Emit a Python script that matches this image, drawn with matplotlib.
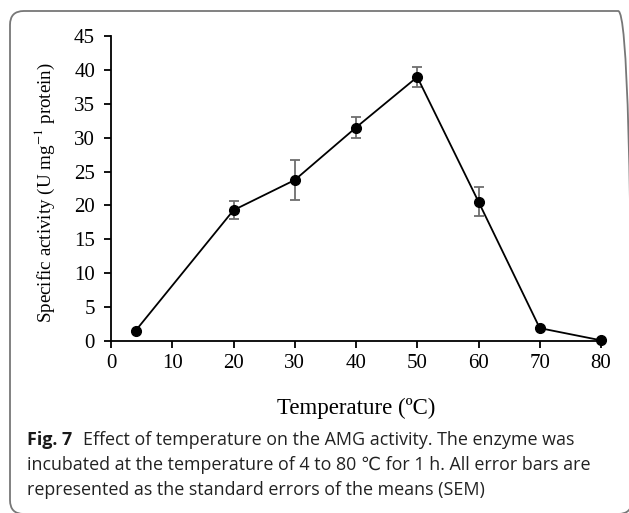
import numpy as np
import matplotlib.pyplot as plt
from matplotlib.patches import FancyBboxPatch

# values
temperature = [4, 20, 30, 40, 50, 60, 70, 80]
activity = [1.5, 19.3, 23.75, 31.5, 38.95, 20.55, 1.9, 0.1]
sem = [0.0, 1.3, 3.0, 1.55, 1.45, 2.1, 0.0, 0.0]
xticks = [0, 10, 20, 30, 40, 50, 60, 70, 80]
yticks = [0, 5, 10, 15, 20, 25, 30, 35, 40, 45]

W, H = 629, 513
fig = plt.figure(figsize=(W / 100, H / 100), dpi=100)
# axes box in pixels: x 111..601, y 36..341 (from top)
ax = fig.add_axes([111 / W, 1 - 341 / H, 490 / W, 305 / H])

serif = 'Liberation Serif'

ax.errorbar(temperature, activity, yerr=sem, fmt='none', ecolor='#6e6e6e',
            elinewidth=1.3, capsize=3.5, capthick=1.3, zorder=2)
ax.plot(temperature, activity, color='black', lw=1.3, marker='o', ms=7,
        mfc='black', mec='black', zorder=3, clip_on=False)

ax.set_xlim(0, 80)
ax.set_ylim(0, 45)
ax.set_xticks(xticks)
ax.set_yticks(yticks)
for s in ['top', 'right']:
    ax.spines[s].set_visible(False)
for s in ['left', 'bottom']:
    ax.spines[s].set_linewidth(1.3)
ax.tick_params(direction='out', length=5, width=1.3, labelsize=15)
ax.tick_params(axis='x', pad=4)
ax.tick_params(axis='y', pad=6.5)
for lab in ax.get_xticklabels() + ax.get_yticklabels():
    lab.set_family(serif)

ax.set_xlabel('Temperature (ºC)', family=serif, fontsize=16.5)
ax.xaxis.set_label_coords(0.5, -(398 - 341) / 305)
ax.set_ylabel('Specific activity (U mg$^{-1}$ protein)', family=serif, fontsize=13.7)
ax.yaxis.label.set_math_fontfamily('stix')
ax.yaxis.set_label_coords(-(111 - 57) / 490, (341 - 193) / 305)

# caption
cap_font = ['Open Sans', 'DejaVu Sans']
cap_size = 12.9
x0 = 27 / W
fig.text(x0, 1 - 445 / H, 'Fig. 7', family=cap_font, fontsize=cap_size, weight='bold',
         va='baseline', color='#1a1a1a')
fig.text(83 / W, 1 - 445 / H, 'Effect of temperature on the AMG activity. The enzyme was',
         family=cap_font, fontsize=cap_size, va='baseline', color='#222222')
fig.text(x0, 1 - 470 / H, 'incubated at the temperature of 4 to 80 \u2103 for 1 h. All error bars are',
         family=cap_font, fontsize=cap_size, va='baseline', color='#222222')
fig.text(x0, 1 - 495 / H, 'represented as the standard errors of the means (SEM)',
         family=cap_font, fontsize=cap_size, va='baseline', color='#222222')

# rounded frame, running off the right and bottom edges
frame = FancyBboxPatch((10 / W, -1 / H), 622 / W, (H - 10) / H,
                       boxstyle='round,pad=0,rounding_size=0.022',
                       transform=fig.transFigure, fill=False, ec='#777777', lw=1.3,
                       mutation_aspect=W / H)
fig.patches.append(frame)

fig.savefig('out.png', dpi=100)
